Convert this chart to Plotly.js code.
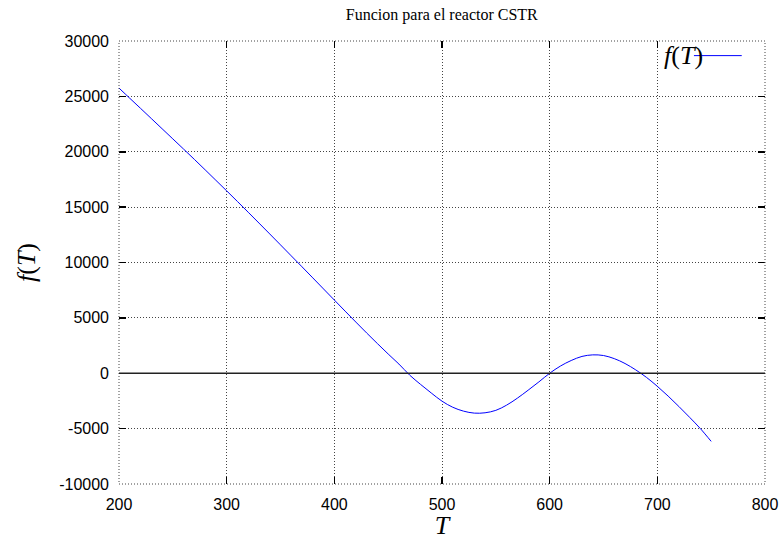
<!DOCTYPE html>
<html>
<head>
<meta charset="utf-8">
<script src="https://cdn.plot.ly/plotly-3.0.1.min.js"></script>
<style>html,body{margin:0;padding:0;background:#fff;}#chart{width:782px;height:540px;}</style>
</head>
<body>
<div id="chart"></div>
<script>
const T = [200,210,220,230,240,250,260,270,280,290,300,310,320,330,340,350,360,370,380,390,400,410,420,430,440,450,460,470,480,490,500,510,520,530,540,550,560,570,580,590,600,610,620,630,640,650,660,670,680,690,700,710,720,730,740,750];
const fT = [25750,24830,23920,23000,22080,21160,20240,19310,18370,17420,16470,15510,14540,13560,12580,11590,10600,9610,8610,7610,6610,5610,4620,3640,2680,1740,830,-170,-1000,-1780,-2520,-3070,-3420,-3600,-3570,-3350,-2880,-2250,-1530,-780,0,650,1150,1520,1660,1600,1320,880,300,-380,-1180,-2060,-3000,-3980,-5000,-6150];
const xTicks = [200,300,400,500,600,700,800];
const yTicks = [-10000,-5000,0,5000,10000,15000,20000,25000,30000];

const serif = 'Liberation Serif, Times New Roman, serif';
const axisCommon = {
  showgrid: true, gridcolor: '#444', griddash: '1px,2px', gridwidth: 1,
  showline: false, zeroline: false,
  ticks: 'inside', ticklen: 7, tickcolor: '#000', tickwidth: 1.5, mirror: 'ticks',
  tickfont: {family: 'Liberation Sans, Arial, sans-serif', size: 16, color: '#000'},
  tickmode: 'array'
};

const data = [{
  x: T, y: fT, type: 'scatter', mode: 'lines',
  line: {color: '#0000ff', width: 1, shape: 'spline'},
  showlegend: false, hoverinfo: 'skip'
}];

const layout = {
  width: 782, height: 540,
  margin: {l: 119, r: 17, t: 41, b: 56},
  paper_bgcolor: '#fff', plot_bgcolor: '#fff',
  showlegend: false,
  title: {text: 'Funcion para el reactor CSTR', font: {family: serif, size: 16, color: '#000'}, x: 0.565, xanchor: 'center', y: 0.974, yanchor: 'middle'},
  xaxis: Object.assign({}, axisCommon, {
    range: [200, 800], tickvals: xTicks, ticktext: xTicks.map(String), ticklabelstandoff: 9,
    title: {text: '<i>T</i>', font: {family: serif, size: 26, color: '#000'}, standoff: 0}
  }),
  yaxis: Object.assign({}, axisCommon, {
    range: [-10000, 30000], tickvals: yTicks, ticktext: yTicks.map(String), ticklabelstandoff: 9,
    title: {text: '<i>f</i>(<i>T</i>)', font: {family: serif, size: 26, color: '#000'}, standoff: 16}
  }),
  shapes: [
    {type: 'rect', xref: 'paper', yref: 'paper', x0: 0, x1: 1, y0: 0, y1: 1, line: {color: '#444', width: 1, dash: '1px,2px'}},
    {type: 'line', xref: 'paper', yref: 'y', x0: 0, x1: 1, y0: 0, y1: 0, line: {color: '#222', width: 1.5}},
    {type: 'line', xref: 'paper', yref: 'paper', x0: 0.89, x1: 0.964, y0: 0.967, y1: 0.967, line: {color: '#0000ff', width: 1}}
  ],
  annotations: [
    {xref: 'paper', yref: 'paper', x: 0.907, y: 0.967, xanchor: 'right', yanchor: 'middle', showarrow: false,
     text: '<i>f</i>(<i>T</i>)', font: {family: serif, size: 26, color: '#000'}}
  ]
};

Plotly.newPlot('chart', data, layout, {displayModeBar: false, staticPlot: true});
</script>
</body>
</html>
